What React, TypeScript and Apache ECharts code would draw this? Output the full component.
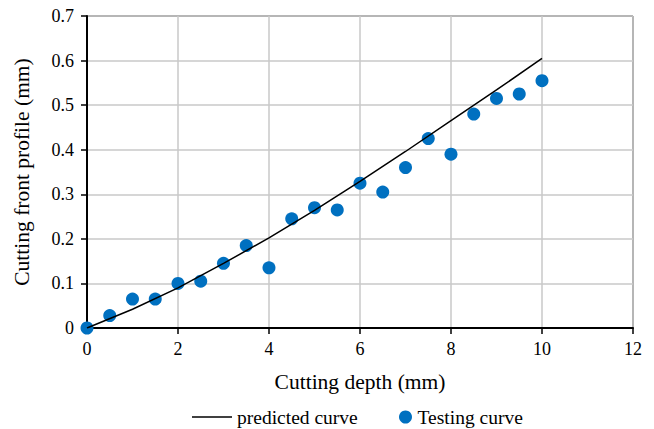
import React, { useEffect, useRef } from "react";
import * as echarts from "echarts";

const testX = [0, 0.5, 1, 1.5, 2, 2.5, 3, 3.5, 4, 4.5, 5, 5.5, 6, 6.5, 7, 7.5, 8, 8.5, 9, 9.5, 10];
const testY = [0, 0.028, 0.065, 0.065, 0.1, 0.105, 0.145, 0.185, 0.135, 0.245, 0.27, 0.265, 0.325, 0.305, 0.36, 0.425, 0.39, 0.48, 0.515, 0.525, 0.555];
const curveX = [0, 1, 2, 3, 4, 5, 6, 7, 8, 9, 10];
const curveY = [0, 0.042, 0.09, 0.145, 0.202, 0.264, 0.329, 0.396, 0.465, 0.534, 0.605];

const FONT = "Liberation Serif";

export default function App() {
  const ref = useRef<HTMLDivElement>(null);
  useEffect(() => {
    if (!ref.current) return;
    const chart = echarts.init(ref.current, null, { renderer: "svg" });
    chart.setOption({
      animation: false,
      textStyle: { fontFamily: FONT, color: "#000" },
      grid: { left: 87, right: 21, top: 16, bottom: 101, show: true, borderColor: "#000", borderWidth: 1 },
      xAxis: {
        type: "value",
        min: 0,
        max: 12,
        interval: 2,
        name: "Cutting depth (mm)",
        nameLocation: "middle",
        nameGap: 43,
        nameTextStyle: { fontFamily: FONT, fontSize: 21.5, color: "#000" },
        axisLine: { show: true, onZero: false, lineStyle: { color: "#000", width: 2 } },
        axisTick: { show: true, length: 6, lineStyle: { color: "#000", width: 1.5 } },
        axisLabel: { fontFamily: FONT, fontSize: 18, color: "#000", margin: 12 },
        splitLine: { show: true, lineStyle: { color: "#c8c8c8", width: 1.5 } },
      },
      yAxis: {
        type: "value",
        min: 0,
        max: 0.7,
        interval: 0.1,
        name: "Cutting front profile (mm)",
        nameLocation: "middle",
        nameGap: 54,
        nameTextStyle: { fontFamily: FONT, fontSize: 21.5, color: "#000" },
        axisLine: { show: true, onZero: false, lineStyle: { color: "#000", width: 2 } },
        axisTick: { show: true, length: 6, lineStyle: { color: "#000", width: 1.5 } },
        axisLabel: { fontFamily: FONT, fontSize: 18, color: "#000", margin: 13 },
        splitLine: { show: true, lineStyle: { color: "#c8c8c8", width: 1.5 } },
      },
      legend: [
        {
          data: [{ name: "predicted curve", icon: "path://M0,0 L40,0 L40,1.5 L0,1.5 Z" }],
          left: 192,
          top: 407,
          padding: 0,
          itemWidth: 40,
          itemHeight: 14,
          textStyle: { fontFamily: FONT, fontSize: 19.5, color: "#000" },
        },
        {
          data: ["Testing curve"],
          left: 399,
          top: 407,
          padding: 0,
          itemWidth: 14,
          itemHeight: 13,
          textStyle: { fontFamily: FONT, fontSize: 19.5, color: "#000" },
        },
      ],
      series: [
        {
          name: "predicted curve",
          type: "line",
          data: curveX.map((x, i) => [x, curveY[i]]),
          symbol: "none",
          smooth: false,
          lineStyle: { color: "#000", width: 1.5 },
          itemStyle: { color: "#000" },
          z: 3,
        },
        {
          name: "Testing curve",
          type: "scatter",
          data: testX.map((x, i) => [x, testY[i]]),
          symbol: "circle",
          symbolSize: 13,
          itemStyle: { color: "#0070C0", opacity: 1 },
          z: 2,
        },
      ],
    });
    return () => chart.dispose();
  }, []);
  return <div ref={ref} style={{ width: 654, height: 429, position: "absolute", left: 0, top: 0 }} />;
}
